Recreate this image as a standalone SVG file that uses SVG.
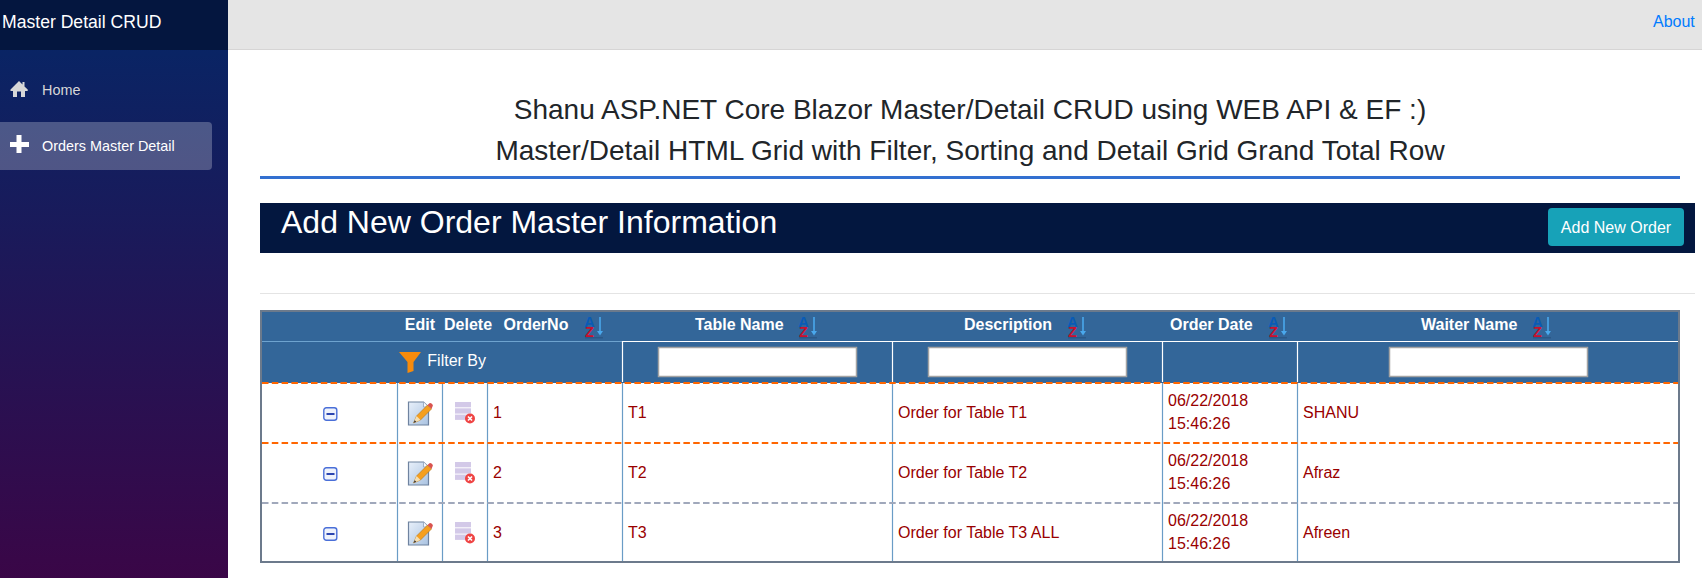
<svg xmlns="http://www.w3.org/2000/svg" width="1702" height="578" viewBox="0 0 1702 578">
<defs>
<linearGradient id="sb" x1="0" y1="0" x2="0" y2="1"><stop offset="0" stop-color="#052767"/><stop offset="1" stop-color="#3a0647"/></linearGradient>
<linearGradient id="paper" x1="0" y1="0" x2="1" y2="1"><stop offset="0" stop-color="#e8f0fa"/><stop offset="1" stop-color="#a9c2e0"/></linearGradient>
<g id="sort">
<text x="4.500" y="10.500" class="az" fill="#0a5bb5" text-anchor="middle">A</text>
<text x="4.500" y="21" class="az" fill="#c8102e" text-anchor="middle">Z</text>
<path d="M15 1V16" stroke="#4aa8ec" stroke-width="1.600"/>
<path d="M12 15h6L15 19.500z" fill="#4aa8ec"/>
<rect x="0" y="21" width="18" height="1.500" fill="#1d3f66" opacity=".35"/>
</g>
<g id="minus">
<rect x=".8" y=".8" width="13" height="12.500" rx="2.500" fill="#eef2fb" stroke="#4a6fd8" stroke-width="1.400"/>
<rect x="3.500" y="6" width="8" height="2" fill="#2b45b0"/>
</g>
<g id="edit">
<path d="M1 1H16L21 6V24H1z" fill="url(#paper)" stroke="#6f83a0" stroke-width="1.200"/>
<path d="M16 1V6H21" fill="#f4f7fb" stroke="#8fa2bb" stroke-width=".8"/>
<path d="M6 22L9 15L20 4L24 8L13 19z" fill="#f59f1f" stroke="#a96a10" stroke-width=".5"/>
<path d="M20 4L22 2.200Q23 1.600 24 2.500L25 3.500Q25.800 4.500 25 5.500L24 8z" fill="#d9534f"/>
<path d="M6 22L9 15L13 19z" fill="#f3dfb5"/>
<path d="M6 22L7.200 19.200L8.800 20.800z" fill="#333"/>
</g>
<g id="del">
<rect x="0" y="0" width="16" height="5.300" fill="#d3c9e8"/>
<rect x="0" y="6.300" width="16" height="5.300" fill="#d3c9e8"/>
<rect x="0" y="12.600" width="16" height="5.300" fill="#d3c9e8"/>
<circle cx="15" cy="16.500" r="5" fill="#ef4444"/>
<path d="M13 14.500L17 18.500M17 14.500L13 18.500" stroke="#fff" stroke-width="1.600"/>
</g>
</defs>
<style>
text{font-family:"Liberation Sans",Arial,sans-serif}
.az{font-size:14.500px;font-weight:700}
.th{font-size:16px;font-weight:700;fill:#fff}
.td{font-size:16px;fill:#990000}
.title{font-size:28px;fill:#212529;text-anchor:middle}
.nav{font-size:14.400px}
.inp{fill:#fff;stroke:#a3a3a3;stroke-width:1.500}
.vb{stroke:#6a9cc6;stroke-width:1.200}
.vw{stroke:#fff;stroke-width:1.200}
.dash{stroke-width:2;stroke-dasharray:6.500 3.300;fill:none}
</style>
<rect width="1702" height="578" fill="#fff"/>
<g id="sidebar">
<rect width="228" height="578" fill="url(#sb)"/>
<rect width="228" height="50" fill="#04163f"/>
<text x="2" y="28" font-size="17.600" fill="#fff">Master Detail CRUD</text>
</g>
<g id="nav-home">
<path d="M19 81L10.500 89.500V91H13V97H17V91.500H21V97H25V91H27.700V89.500L24.500 86.500V82H22.500V84.500z" fill="#d7d7d7"/>
<text class="nav" x="42" y="95" fill="#d7d7d7">Home</text>
</g>
<g id="nav-orders">
<path d="M0 122H208a4 4 0 0 1 4 4V166a4 4 0 0 1-4 4H0z" fill="#fff" fill-opacity=".25"/>
<path d="M16.500 135H21.500V142H29V147H21.500V153H16.500V147H10V142H16.500z" fill="#fff"/>
<text class="nav" x="42" y="151" fill="#fff">Orders Master Detail</text>
</g>
<g id="topbar">
<rect x="228" width="1474" height="50" fill="#e5e5e5"/>
<rect x="228" y="49" width="1474" height="1" fill="#d6d5d5"/>
<text x="1653" y="27" font-size="16" fill="#007bff">About</text>
</g>
<g id="heading">
<text class="title" x="970" y="119">Shanu ASP.NET Core Blazor Master/Detail CRUD using WEB API &amp; EF :)</text>
<text class="title" x="970" y="160">Master/Detail HTML Grid with Filter, Sorting and Detail Grid Grand Total Row</text>
<rect x="260" y="176" width="1420" height="3" fill="#3370d0"/>
</g>
<g id="banner">
<rect x="260" y="203" width="1435" height="50" fill="#03173f"/>
<text x="281" y="233" font-size="32" fill="#fff">Add New Order Master Information</text>
</g>
<g id="add-button">
<rect x="1548" y="208" width="136" height="38" rx="4" fill="#17a2b8"/>
<text x="1616" y="232.500" font-size="16" fill="#fff" text-anchor="middle">Add New Order</text>
</g>
<rect x="260" y="293" width="1435" height="1" fill="#e4e4e4"/>
<g id="table">
<rect x="261" y="311" width="1418" height="251" fill="#fff" stroke="#6c7a8c" stroke-width="2"/>
<rect x="262" y="312" width="1416" height="71" fill="#336699"/>
<rect x="262" y="341" width="360" height="1" fill="#6ea3cf"/>
<rect x="622" y="341" width="1056" height="1" fill="#fff"/>
<g id="header-row">
<text class="th" x="404.800" y="330">Edit</text>
<text class="th" x="444" y="330">Delete</text>
<text class="th" x="503.500" y="330">OrderNo</text>
<text class="th" x="695" y="330">Table Name</text>
<text class="th" x="964" y="330">Description</text>
<text class="th" x="1170" y="330">Order Date</text>
<text class="th" x="1421" y="330">Waiter Name</text>
<use href="#sort" x="585" y="316"/>
<use href="#sort" x="799" y="316"/>
<use href="#sort" x="1068" y="316"/>
<use href="#sort" x="1269" y="316"/>
<use href="#sort" x="1533" y="316"/>
</g>
<g id="filter-row">
<path d="M399 352H421L413.500 362V371L407.500 373V362z" fill="#f78b0c"/>
<text x="427.300" y="365.700" font-size="16" fill="#fff">Filter By</text>
<path class="vw" d="M622.500 341V382M892.500 341V382M1162.500 341V382M1297.500 341V382"/>
<rect class="inp" x="658.500" y="347.500" width="198" height="29"/>
<rect class="inp" x="928.500" y="347.500" width="198" height="29"/>
<rect class="inp" x="1389.500" y="347.500" width="198" height="29"/>
</g>
<g id="grid-lines">
<path class="vb" d="M397.500 383V561M442.500 383V561M487.500 383V561M622.500 383V561M892.500 383V561M1162.500 383V561M1297.500 383V561"/>
<path class="dash" stroke="#ff6600" d="M262 383H1678M262 443H1678"/>
<path class="dash" stroke="#a0a8bb" d="M262 503H1678"/>
</g>
<g id="row-1">
<use href="#minus" x="323" y="407"/><use href="#edit" x="407.500" y="401"/><use href="#del" x="455" y="402"/>
<text class="td" x="493" y="418">1</text>
<text class="td" x="628" y="418">T1</text>
<text class="td" x="898" y="418">Order for Table T1</text>
<text class="td" x="1168" y="405.500">06/22/2018</text>
<text class="td" x="1168" y="429">15:46:26</text>
<text class="td" x="1303" y="418">SHANU</text>
</g>
<g id="row-2">
<use href="#minus" x="323" y="467"/><use href="#edit" x="407.500" y="461"/><use href="#del" x="455" y="462"/>
<text class="td" x="493" y="478">2</text>
<text class="td" x="628" y="478">T2</text>
<text class="td" x="898" y="478">Order for Table T2</text>
<text class="td" x="1168" y="465.500">06/22/2018</text>
<text class="td" x="1168" y="489">15:46:26</text>
<text class="td" x="1303" y="478">Afraz</text>
</g>
<g id="row-3">
<use href="#minus" x="323" y="527"/><use href="#edit" x="407.500" y="521"/><use href="#del" x="455" y="522"/>
<text class="td" x="493" y="538">3</text>
<text class="td" x="628" y="538">T3</text>
<text class="td" x="898" y="538">Order for Table T3 ALL</text>
<text class="td" x="1168" y="525.500">06/22/2018</text>
<text class="td" x="1168" y="549">15:46:26</text>
<text class="td" x="1303" y="538">Afreen</text>
</g>
</g>
</svg>
